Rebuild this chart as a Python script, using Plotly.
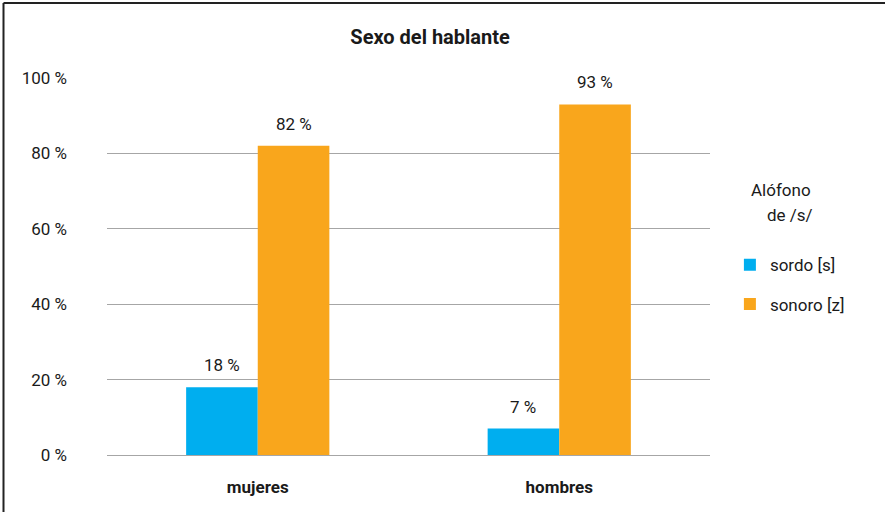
import plotly.graph_objects as go

categories = ["mujeres", "hombres"]
sordo = [18, 7]
sonoro = [82, 93]
series_names = ["sordo [s]", "sonoro [z]"]
y_ticks = [0, 20, 40, 60, 80, 100]
y_ticktext = ["0 %", "20 %", "40 %", "60 %", "80 %", "100 %"]

FONT = "Roboto, Noto Sans, sans-serif"
TXT = "#1a1a1a"
BLUE = "#00AEEF"
ORANGE = "#F9A61C"

fig = go.Figure()
fig.add_trace(go.Bar(x=categories, y=sordo, name=series_names[0], marker_color=BLUE,
                     legendgroup="a", marker_line_width=0))
fig.add_trace(go.Bar(x=categories, y=sonoro, name=series_names[1], marker_color=ORANGE,
                     legendgroup="b", marker_line_width=0))

# value labels above bars
bar_px = 72
for vals, shift in ((sordo, -bar_px / 2), (sonoro, bar_px / 2)):
    for c, v in zip(categories, vals):
        fig.add_annotation(x=c, y=v, text=f"{v} %", showarrow=False, xshift=shift,
                           yshift=22, yanchor="middle", font=dict(size=17, color=TXT))

fig.update_layout(
    width=885, height=512,
    margin=dict(l=107, r=175, t=78, b=57),
    paper_bgcolor="white", plot_bgcolor="white",
    font=dict(family=FONT, size=17, color=TXT),
    title=dict(text="<b>Sexo del hablante</b>", x=0.486, xanchor="center", y=0.928,
               yanchor="middle", font=dict(size=20)),
    barmode="group", bargap=0.525, bargroupgap=0,
    xaxis=dict(showgrid=False, showline=False, ticks="", tickfont=dict(size=17),
               tickprefix="<b>", ticksuffix="</b>", ticklabelstandoff=20),
    yaxis=dict(range=[0, 100], tickmode="array", tickvals=y_ticks, ticktext=y_ticktext,
               showgrid=True, gridcolor="#a6a6a6", gridwidth=1, zeroline=True,
               zerolinecolor="#a6a6a6", zerolinewidth=1, ticklabelstandoff=39,
               tickfont=dict(size=17)),
    legend=dict(x=1.033, y=0.551, xanchor="left", yanchor="top",
                font=dict(size=17), itemwidth=30, tracegroupgap=14, traceorder="grouped"),
)

fig.add_annotation(xref="paper", yref="paper", x=(749 - 107) / 603, y=0.703, text="Alófono",
                   showarrow=False, xanchor="left", yanchor="middle", align="left",
                   font=dict(size=17, color=TXT))
fig.add_annotation(xref="paper", yref="paper", x=(765 - 107) / 603, y=0.637, text="de /s/",
                   showarrow=False, xanchor="left", yanchor="middle", align="left",
                   font=dict(size=17, color=TXT))

# border on left and top of image
top = (455 - 3) / 377
left = (3.5 - 107) / 603
fig.add_shape(type="line", xref="paper", yref="paper", x0=left, x1=1.3, y0=top, y1=top,
              line=dict(color="#222222", width=2))
fig.add_shape(type="line", xref="paper", yref="paper", x0=left, x1=left, y0=-0.2, y1=top,
              line=dict(color="#222222", width=2))

fig.write_html("out.html", post_script="document.body.style.margin='0';",
               config={"displayModeBar": False})
